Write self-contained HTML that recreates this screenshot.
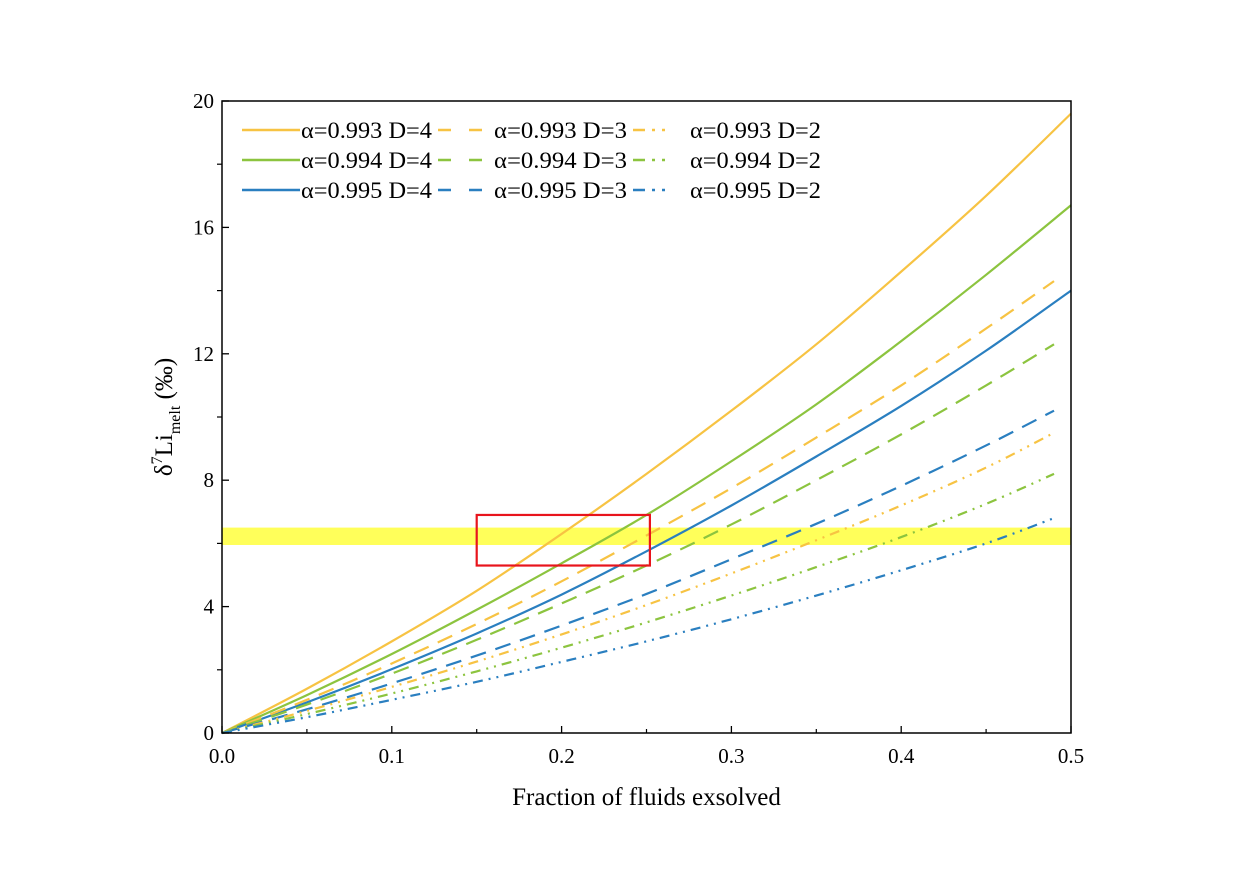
<!DOCTYPE html>
<html><head><meta charset="utf-8">
<style>
html,body{margin:0;padding:0;background:#fff;}
svg text{font-family:"Liberation Serif",serif;fill:#000;}
</style></head>
<body>
<svg id="chart" width="1244" height="880" xmlns="http://www.w3.org/2000/svg">
<g id="plot"></g>
</svg>
<script>
const xs = [0,0.05,0.1,0.15,0.2,0.25,0.3,0.35,0.4,0.45,0.5];
const xsShort = [0,0.05,0.1,0.15,0.2,0.25,0.3,0.35,0.4,0.45,0.49];
const y993D4 = [0,1.4,2.9,4.5,6.3,8.2,10.2,12.3,14.6,17.0,19.6];
const y994D4 = [0,1.2,2.5,3.9,5.37,6.9,8.6,10.4,12.4,14.5,16.7];
const y995D4 = [0,0.97,2.02,3.15,4.38,5.75,7.2,8.75,10.35,12.1,14.0];
const y993D3 = [0,1.05,2.2,3.45,4.8,6.25,7.75,9.35,11.0,12.8,14.3];
const y994D3 = [0,0.9,1.88,2.95,4.1,5.3,6.6,8.0,9.45,11.0,12.3];
const y995D3 = [0,0.75,1.57,2.45,3.4,4.4,5.5,6.62,7.82,9.1,10.2];
const y993D2 = [0,0.7,1.46,2.26,3.12,4.05,5.05,6.1,7.2,8.4,9.5];
const y994D2 = [0,0.6,1.25,1.95,2.7,3.5,4.35,5.25,6.2,7.25,8.2];
const y995D2 = [0,0.5,1.05,1.62,2.25,2.9,3.6,4.35,5.15,6.0,6.8];
const xTicks = [0,0.1,0.2,0.3,0.4,0.5];
const xTickLabels = ["0.0","0.1","0.2","0.3","0.4","0.5"];
const yTicks = [0,4,8,12,16,20];
const yTickLabels = ["0","4","8","12","16","20"];
const band = [5.95,6.5];
const boxX = [0.15,0.252];
const boxY = [5.3,6.9];

const X0=222,X1=1071,Y0=733,Y1=101;
const sx=v=>X0+(v-0)/(0.5-0)*(X1-X0);
const sy=v=>Y0-(v-0)/(20-0)*(Y0-Y1);
const NS="http://www.w3.org/2000/svg";
const g=document.getElementById('plot');
function mk(tag,attrs,parent){const e=document.createElementNS(NS,tag);for(const k in attrs)e.setAttribute(k,attrs[k]);(parent||g).appendChild(e);return e;}

let b=mk('rect',{x:X0,y:sy(band[1]),width:X1-X0,height:sy(band[0])-sy(band[1]),fill:'#ffff5a'});



const YEL='#f7c343',GRN='#8cc43f',BLU='#2a7fc0';
const DASH='16 10', DD='10 6 2 6 2 6';
const series=[
 [xs,y993D4,YEL,null,'line-a0993-d4'],[xs,y994D4,GRN,null,'line-a0994-d4'],[xs,y995D4,BLU,null,'line-a0995-d4'],
 [xsShort,y993D3,YEL,DASH,'line-a0993-d3'],[xsShort,y994D3,GRN,DASH,'line-a0994-d3'],[xsShort,y995D3,BLU,DASH,'line-a0995-d3'],
 [xsShort,y993D2,YEL,DD,'line-a0993-d2'],[xsShort,y994D2,GRN,DD,'line-a0994-d2'],[xsShort,y995D2,BLU,DD,'line-a0995-d2']];
function smoothPath(px,py){
 let d='M'+px[0]+','+py[0];
 for(let i=0;i<px.length-1;i++){
  const p0x=px[Math.max(i-1,0)],p0y=py[Math.max(i-1,0)],p3x=px[Math.min(i+2,px.length-1)],p3y=py[Math.min(i+2,px.length-1)];
  const c1x=px[i]+(px[i+1]-p0x)/6,c1y=py[i]+(py[i+1]-p0y)/6,c2x=px[i+1]-(p3x-px[i])/6,c2y=py[i+1]-(p3y-py[i])/6;
  d+=' C'+c1x+','+c1y+' '+c2x+','+c2y+' '+px[i+1]+','+py[i+1];
 }
 return d;
}
series.forEach(s=>{
 const px=s[0].map(sx),py=s[1].map(sy);
 const a={d:smoothPath(px,py),fill:'none',stroke:s[2],'stroke-width':2.2};
 if(s[3])a['stroke-dasharray']=s[3];
 const p=mk('path',a);
 
 
});

let r=mk('rect',{x:sx(boxX[0]),y:sy(boxY[1]),width:sx(boxX[1])-sx(boxX[0]),height:sy(boxY[0])-sy(boxY[1]),fill:'none',stroke:'#e8141c','stroke-width':2.2});



let f=mk('rect',{x:X0,y:Y1,width:X1-X0,height:Y0-Y1,fill:'none',stroke:'#000','stroke-width':1.5});



xTicks.forEach((v,i)=>{
 const t=mk('line',{x1:sx(v),x2:sx(v),y1:Y0,y2:Y0-7,stroke:'#000','stroke-width':1.3});
 
 
 if(i<xTicks.length-1){const m=mk('line',{x1:sx(v+0.05),x2:sx(v+0.05),y1:Y0,y2:Y0-4,stroke:'#000','stroke-width':1.2});
 
 }
 const l=mk('text',{x:sx(v),y:Y0+30,'text-anchor':'middle','font-size':21});
 l.textContent=xTickLabels[i];
 
 
});
yTicks.forEach((v,i)=>{
 const t=mk('line',{x1:X0,x2:X0+7,y1:sy(v),y2:sy(v),stroke:'#000','stroke-width':1.3});
 
 
 if(i<yTicks.length-1){const m=mk('line',{x1:X0,x2:X0-5,y1:sy(v+2),y2:sy(v+2),stroke:'#000','stroke-width':1.2});
 
 }
 const l=mk('text',{x:X0-8,y:sy(v)+7,'text-anchor':'end','font-size':21});
 l.textContent=yTickLabels[i];
 
 
});

const legRows=[130,160,190];
const legColors=[YEL,GRN,BLU];
const legAlpha=['0.993','0.994','0.995'];
legRows.forEach((y,i)=>{
 const c=legColors[i];
 let e=mk('line',{x1:242,x2:300,y1:y,y2:y,stroke:c,'stroke-width':2.5});
 
 
 e=mk('text',{x:301,y:y+8,'font-size':23,textLength:131,lengthAdjust:'spacingAndGlyphs'});e.textContent='α='+legAlpha[i]+' D=4';
 
 
 e=mk('line',{x1:438,x2:482,y1:y,y2:y,stroke:c,'stroke-width':2.5,'stroke-dasharray':'13 18'});
 
 
 e=mk('text',{x:494,y:y+8,'font-size':23,textLength:133,lengthAdjust:'spacingAndGlyphs'});e.textContent='α='+legAlpha[i]+' D=3';
 
 
 e=mk('line',{x1:633,x2:670,y1:y,y2:y,stroke:c,'stroke-width':2.5,'stroke-dasharray':'12 7 3 7 3 20'});
 
 
 e=mk('text',{x:690,y:y+8,'font-size':23,textLength:131,lengthAdjust:'spacingAndGlyphs'});e.textContent='α='+legAlpha[i]+' D=2';
 
 
});

let xt=mk('text',{x:(X0+X1)/2,y:805,'text-anchor':'middle','font-size':25});
xt.textContent='Fraction of fluids exsolved';


let yt=mk('text',{transform:'translate(172,417) rotate(-90)','text-anchor':'middle','font-size':25});
yt.innerHTML='δ<tspan dy="-10" font-size="16">7</tspan><tspan dy="10">Li</tspan><tspan dy="8" font-size="16">melt</tspan><tspan dy="-8"> (‰)</tspan>';


</script>
</body></html>
